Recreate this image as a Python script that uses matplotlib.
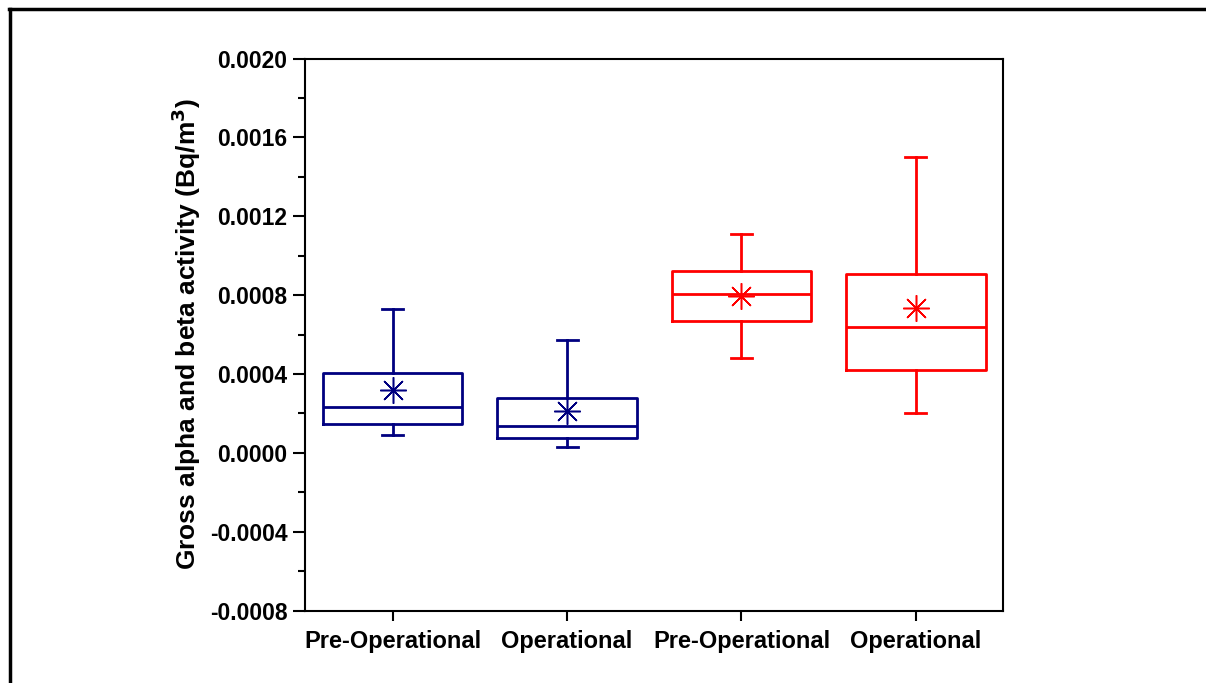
import matplotlib
matplotlib.use("Agg")
import matplotlib.pyplot as plt
from matplotlib.lines import Line2D
from matplotlib.ticker import MultipleLocator, FormatStrFormatter

# box statistics per group (Bq/m^3)
groups = ["Pre-Operational", "Operational", "Pre-Operational", "Operational"]
whislo = [0.000090, 0.000029, 0.000479, 0.000200]
q1 = [0.000146, 0.000073, 0.000670, 0.000420]
medians = [0.000231, 0.000137, 0.000805, 0.000640]
q3 = [0.000403, 0.000279, 0.000922, 0.000907]
whishi = [0.000729, 0.000572, 0.001108, 0.001500]
means = [0.000318, 0.000213, 0.000797, 0.000733]
colors = ["#000080", "#000080", "#ff0000", "#ff0000"]

plt.rcParams['font.family'] = ['Liberation Sans', 'DejaVu Sans']
plt.rcParams['font.weight'] = 'bold'

fig = plt.figure(figsize=(12.06, 6.83), dpi=100, facecolor='white')
ax = fig.add_axes([0.2533, 0.1061, 0.5784, 0.8082])

positions = list(range(1, len(groups) + 1))
for i, pos in enumerate(positions):
    stats = [dict(whislo=whislo[i], q1=q1[i], med=medians[i], q3=q3[i],
                  whishi=whishi[i], mean=means[i], fliers=[])]
    c = colors[i]
    line = dict(color=c, linewidth=2)
    ax.bxp(stats, positions=[pos], widths=0.8, capwidths=0.12,
           showmeans=True, showfliers=False, manage_ticks=False,
           boxprops=line, whiskerprops=line, capprops=line, medianprops=line,
           meanprops=dict(marker=(8, 2, 0), markersize=19,
                          markeredgecolor=c, markerfacecolor=c,
                          markeredgewidth=1.1, linestyle='none'))

ax.set_xlim(0.5, 4.5)
ax.set_ylim(-0.0008, 0.0020)
ax.set_xticks(positions)
ax.set_xticklabels(groups)
ax.yaxis.set_major_locator(MultipleLocator(0.0004))
ax.yaxis.set_minor_locator(MultipleLocator(0.0002))
ax.yaxis.set_major_formatter(FormatStrFormatter('%.4f'))

ax.tick_params(axis='y', which='major', direction='out', length=9, width=1.5,
               labelsize=16.5, pad=4)
ax.tick_params(axis='y', which='minor', direction='out', length=5, width=1.5)
ax.tick_params(axis='x', which='major', direction='out', length=7, width=1.5,
               labelsize=17, pad=7)
for lab in ax.get_xticklabels() + ax.get_yticklabels():
    lab.set_fontweight('bold')
for sp in ax.spines.values():
    sp.set_linewidth(1.5)

ax.set_ylabel("Gross alpha and beta activity (Bq/m$^\\mathbf{3}$)",
              fontsize=19, fontweight='bold', labelpad=5)

# frame lines along the top and left edge of the figure
W, H = 1206, 683
fig.add_artist(Line2D([9 / W, 1.0], [1 - 9 / H, 1 - 9 / H],
                      transform=fig.transFigure, color='black', linewidth=2.5))
fig.add_artist(Line2D([10 / W, 10 / W], [0.0, 1 - 9 / H],
                      transform=fig.transFigure, color='black', linewidth=2.5))

fig.savefig("out.png", dpi=100, facecolor='white')
